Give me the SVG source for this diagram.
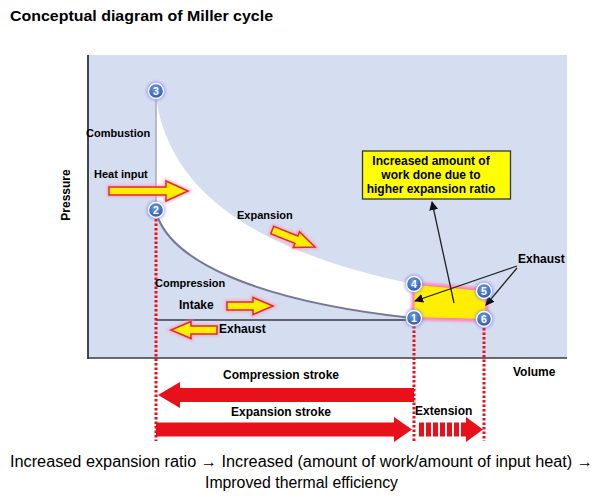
<svg xmlns="http://www.w3.org/2000/svg" width="607" height="496" viewBox="0 0 607 496">
<style>
text{font-family:"Liberation Sans",Arial,sans-serif;fill:#000}
.b{font-weight:bold}
.s11{font-size:11px}
.s12{font-size:12px}
.ya{fill:#ffee00;stroke:#e0283a;stroke-width:1.5;stroke-linejoin:miter}
.glowa{fill:none;stroke:#ff90b0;stroke-width:4;opacity:.7}
.red{fill:#e8101a}
.dot{stroke:#e8101a;stroke-width:3;stroke-dasharray:2.5 2;fill:none}
.num{font-size:10.5px;font-weight:bold;fill:#fff;text-anchor:middle}
.pt{fill:url(#bg);stroke:#fff;stroke-width:1.3}
.ar{stroke:#222;stroke-width:1.3;fill:none;marker-end:url(#ah)}
</style>
<defs>
<radialGradient id="bg" cx="0.45" cy="0.35" r="0.7">
<stop offset="0" stop-color="#6f9de6"/>
<stop offset="1" stop-color="#2454ad"/>
</radialGradient>
<filter id="blur" x="-50%" y="-50%" width="200%" height="200%"><feGaussianBlur stdDeviation="1.6"/></filter>
<marker id="ah" viewBox="0 0 10 10" refX="9" refY="5" markerWidth="9" markerHeight="9" markerUnits="userSpaceOnUse" orient="auto">
<path d="M0,0 L10,5 L0,10 Z" fill="#111"/>
</marker>
<path id="sa" d="M-46,-4 L-20,-4 L-20,-8.5 L0,0 L-20,8.5 L-20,4 L-46,4 Z"/>
</defs>

<text class="b" x="10" y="20.5" font-size="15" textLength="263" lengthAdjust="spacingAndGlyphs">Conceptual diagram of Miller cycle</text>

<g id="plot">
<rect x="88" y="55" width="479" height="303" fill="#d5ddf0"/>
<path d="M156,98 C170,190 250,250 413,284 L413,318 C250,300 175,260 158,218 L156,210 Z" fill="#fff"/>
<path d="M158,218 C175,260 250,300 412,318" fill="none" stroke="#767696" stroke-width="2"/>
<line x1="156" y1="98" x2="156" y2="204" stroke="#a8a8c0" stroke-width="1.5"/>
<line x1="156" y1="320" x2="412" y2="320" stroke="#3a3a44" stroke-width="1.5"/>
<line x1="88" y1="55" x2="88" y2="359" stroke="#44444c" stroke-width="2"/>
<line x1="88" y1="358" x2="567" y2="358" stroke="#3a3a44" stroke-width="1.5"/>
</g>

<g id="work-area">
<path d="M415,285 L484,291 L486,319 L414,317 Z" fill="none" stroke="#ff80b0" stroke-width="6" filter="url(#blur)"/>
<path d="M415,285 L484,291 L486,319 L414,317 Z" fill="#ffee00"/>
</g>

<g id="connectors">
<line class="dot" x1="156" y1="219" x2="156" y2="441"/>
<line class="dot" x1="414" y1="326" x2="414" y2="441"/>
<line class="dot" x1="484" y1="328" x2="484" y2="441"/>
<line class="ar" x1="454" y1="303" x2="432" y2="202"/>
<line class="ar" x1="517" y1="266" x2="415" y2="301"/>
<line class="ar" x1="517" y1="268" x2="486" y2="305"/>
</g>

<g id="heat-input-arrow">
<path d="M109,187 L166,187 L166,181 L188,191 L166,201 L166,195 L109,195 Z" class="glowa" filter="url(#blur)"/>
<path d="M109,187 L166,187 L166,181 L188,191 L166,201 L166,195 L109,195 Z" class="ya"/>
</g>
<g id="expansion-arrow" transform="translate(315,247) rotate(21.6)">
<use href="#sa" class="glowa" filter="url(#blur)"/>
<use href="#sa" class="ya"/>
</g>
<g id="intake-arrow" transform="translate(273,306)">
<use href="#sa" class="glowa" filter="url(#blur)"/>
<use href="#sa" class="ya"/>
</g>
<g id="exhaust-arrow" transform="translate(171,330) rotate(180)">
<use href="#sa" class="glowa" filter="url(#blur)"/>
<use href="#sa" class="ya"/>
</g>

<g id="p3"><circle cx="156" cy="91" r="9.5" fill="#7a70ff" opacity=".55" filter="url(#blur)"/><circle class="pt" cx="156" cy="91" r="7.5"/><text class="num" x="156" y="94.8">3</text></g>
<g id="p2"><circle cx="156" cy="210" r="9.5" fill="#7a70ff" opacity=".55" filter="url(#blur)"/><circle class="pt" cx="156" cy="210" r="7.5"/><text class="num" x="156" y="213.8">2</text></g>
<g id="p4"><circle cx="414" cy="284" r="9.5" fill="#7a70ff" opacity=".55" filter="url(#blur)"/><circle class="pt" cx="414" cy="284" r="7.5"/><text class="num" x="414" y="287.8">4</text></g>
<g id="p5"><circle cx="484" cy="291" r="9.5" fill="#7a70ff" opacity=".55" filter="url(#blur)"/><circle class="pt" cx="484" cy="291" r="7.5"/><text class="num" x="484" y="294.8">5</text></g>
<g id="p1"><circle cx="414" cy="318" r="9.5" fill="#7a70ff" opacity=".55" filter="url(#blur)"/><circle class="pt" cx="414" cy="318" r="7.5"/><text class="num" x="414" y="321.8">1</text></g>
<g id="p6"><circle cx="484" cy="319" r="9.5" fill="#7a70ff" opacity=".55" filter="url(#blur)"/><circle class="pt" cx="484" cy="319" r="7.5"/><text class="num" x="484" y="322.8">6</text></g>

<g id="callout">
<rect x="362.5" y="151" width="148" height="48" fill="#ffff00" stroke="#333" stroke-width="1.3"/>
<text class="b s12" text-anchor="middle" x="431" y="165">Increased amount of</text>
<text class="b s12" text-anchor="middle" x="431" y="179">work done due to</text>
<text class="b s12" text-anchor="middle" x="431" y="193">higher expansion ratio</text>
</g>

<g id="labels">
<text class="b s12" transform="translate(70,195) rotate(-90)" text-anchor="middle">Pressure</text>
<text class="b s12" x="513" y="376">Volume</text>
<text class="b s11" x="86" y="137">Combustion</text>
<text class="b s11" x="94" y="178">Heat input</text>
<text class="b s11" x="237" y="219">Expansion</text>
<text class="b s11" x="155" y="287">Compression</text>
<text class="b s12" x="179" y="309">Intake</text>
<text class="b s12" x="219" y="333">Exhaust</text>
<text class="b s12" x="518" y="263">Exhaust</text>
</g>

<g id="strokes">
<path class="red" d="M158,395 L180,382 L180,388 L414,388 L414,402 L180,402 L180,408 Z"/>
<path class="red" d="M156,422.5 L394,422.5 L394,417 L412,429.5 L394,442 L394,436.5 L156,436.5 Z"/>
<line x1="419" y1="429.5" x2="467" y2="429.5" stroke="#e8101a" stroke-width="14" stroke-dasharray="5 2"/>
<path class="red" d="M466,417 L483,429.5 L466,442 Z"/>
<text class="b s12" text-anchor="middle" x="281" y="379">Compression stroke</text>
<text class="b s12" text-anchor="middle" x="281" y="416">Expansion stroke</text>
<text class="b s12" x="415" y="415">Extension</text>
</g>

<g id="conclusion">
<text x="10" y="467" font-size="16" textLength="583" lengthAdjust="spacingAndGlyphs">Increased expansion ratio → Increased (amount of work/amount of input heat) →</text>
<text x="205" y="488" font-size="16" textLength="193" lengthAdjust="spacingAndGlyphs">Improved thermal efficiency</text>
</g>
</svg>
